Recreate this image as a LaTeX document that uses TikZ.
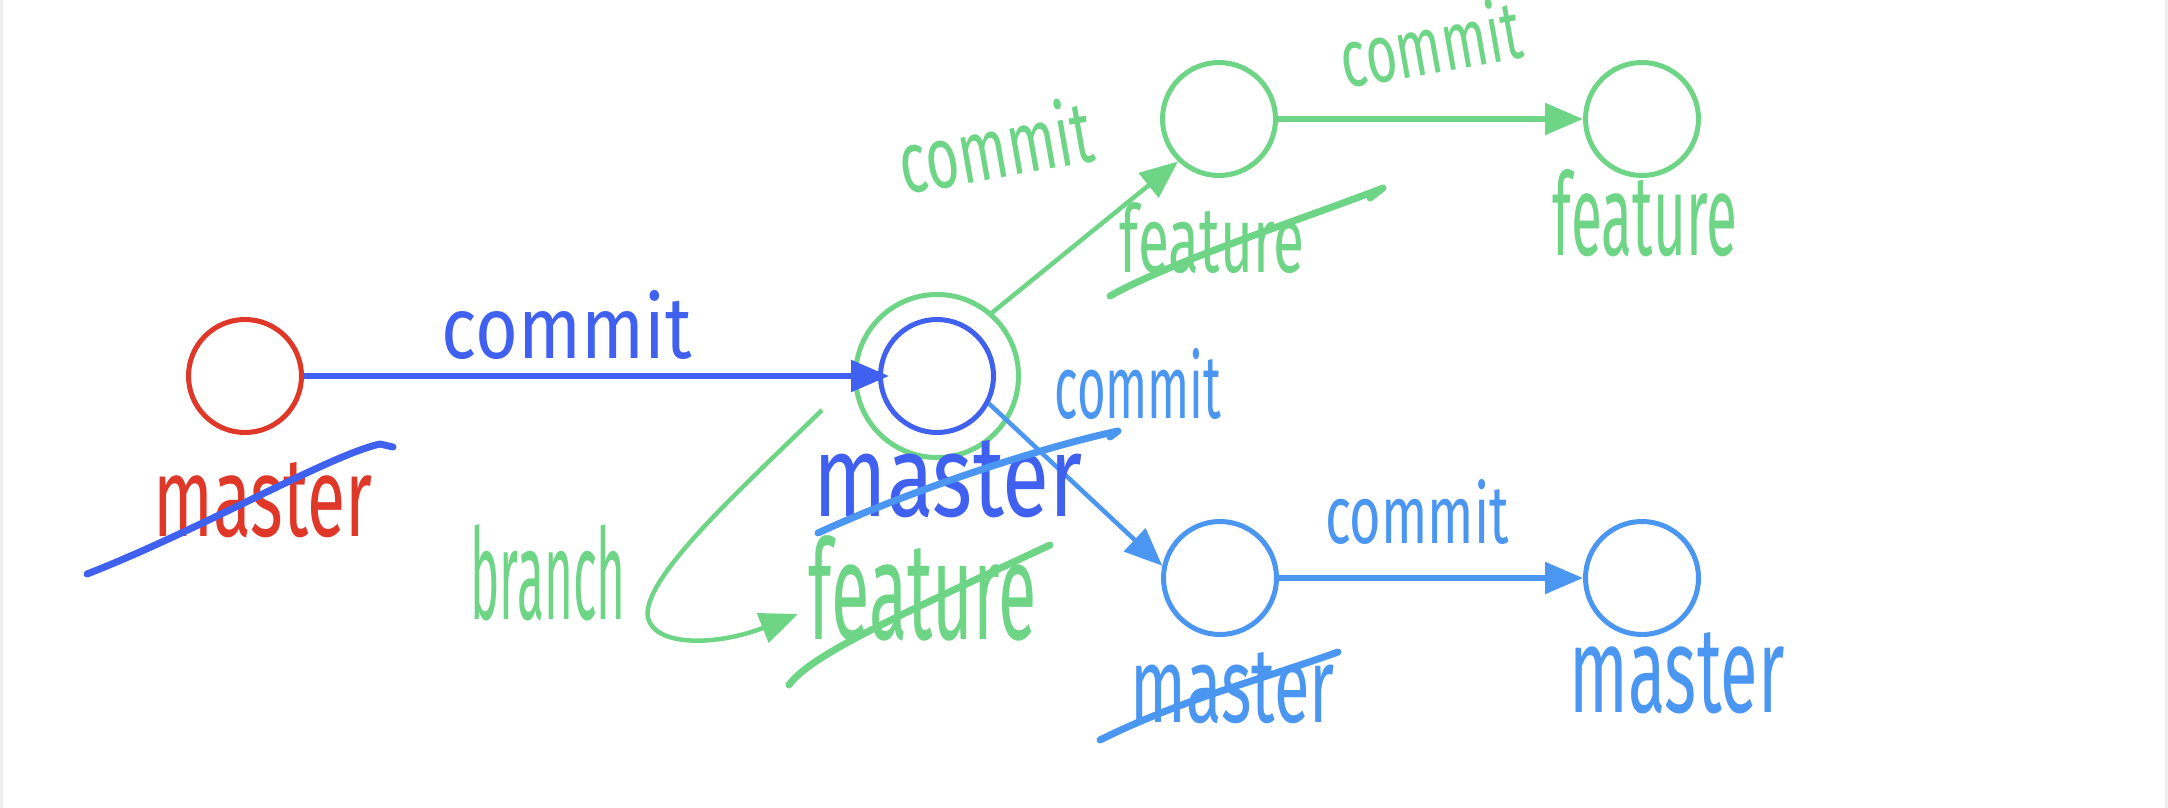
\documentclass[tikz,border=0pt]{standalone}
\usepackage{graphicx}
\usepackage{fontspec}
\setmainfont{Fira Sans}
\usetikzlibrary{arrows.meta}
\definecolor{cred}{RGB}{224,56,40}
\definecolor{cblue}{RGB}{64,96,240}
\definecolor{clblue}{RGB}{74,150,240}
\definecolor{cgreen}{RGB}{109,213,133}
\definecolor{cedge}{RGB}{239,239,239}
\newcommand\hw[3]{\resizebox{#1}{#2}{#3}}
\tikzset{
  commitnode/.style={circle, draw, line width=5pt, minimum size=113pt, inner sep=0pt},
  outerring/.style={circle, draw=cgreen, line width=5pt, minimum size=163pt, inner sep=0pt},
  link/.style={line width=5.5pt, -{Triangle[length=38pt, width=31pt]}},
  strike/.style={line width=7pt, line cap=round, line join=round},
  lbl/.style={inner sep=0pt, outer sep=0pt}
}
\begin{document}
\begin{tikzpicture}[x=1pt, y=-1pt]
\useasboundingbox (0,0) rectangle (2168,808);
\fill[white] (0,0) rectangle (2168,808);
\fill[cedge] (0,0) rectangle (3,808);
\fill[cedge] (2165,0) rectangle (2168,808);

% commit nodes
\node[commitnode, draw=cred] (r0) at (245,376) {};
\node[outerring] (m1out) at (937,376) {};
\node[commitnode, draw=cblue] (m1in) at (937,376) {};
\node[commitnode, draw=cgreen] (f1) at (1219,119) {};
\node[commitnode, draw=cgreen] (f2) at (1642,119) {};
\node[commitnode, draw=clblue] (b1) at (1220,578) {};
\node[commitnode, draw=clblue] (b2) at (1642,578) {};

% connectors
\draw[link, cblue, shorten >=-11pt] (r0.east) -- (m1in.west);
\draw[link, cgreen, line width=4.5pt] (m1out.49) -- (f1.226);
\draw[link, clblue, line width=4.5pt] (m1in.-28) -- (b1.168);
\draw[link, cgreen] (f1.east) -- (f2.west);
\draw[link, clblue] (b1.east) -- (b2.west);

% branch arrow
\coordinate (brs) at (822,410);
\coordinate (bre) at (798,614);
\draw[cgreen, line width=4.5pt, -{Triangle[length=38pt, width=31pt]}]
  (brs) .. controls (740,490) and (640,580) .. (648,618)
        .. controls (656,648) and (720,645) .. (bre);

% labels
\node[lbl, text=cblue] (t1) at (567,325) {\hw{250pt}{68pt}{commit}};
\node[lbl, text=cred] (t2) at (263,500) {\hw{219pt}{74pt}{master}};
\node[lbl, text=cblue] (t3) at (948,479) {\hw{269pt}{76pt}{master}};
\node[lbl, text=clblue] (t4) at (1138,384) {\hw{167pt}{70pt}{commit}};
\node[lbl, text=cgreen, rotate=10] (t5) at (995,145) {\hw{195pt}{68pt}{commit}};
\node[lbl, text=cgreen, rotate=10] (t6) at (1430,42) {\hw{182pt}{64pt}{commit}};
\node[lbl, text=cgreen] (t7) at (1212,238) {\hw{184pt}{70pt}{feature}};
\node[lbl, text=cgreen] (t8) at (1645,213) {\hw{184pt}{86pt}{feature}};
\node[lbl, text=cgreen] (t9) at (548,573) {\hw{155pt}{95pt}{branch}};
\node[lbl, text=cgreen] (t10) at (923,588) {\hw{228pt}{104pt}{feature}};
\node[lbl, text=clblue] (t11) at (1417,512) {\hw{184pt}{64pt}{commit}};
\node[lbl, text=clblue] (t12) at (1233,688) {\hw{204pt}{70pt}{master}};
\node[lbl, text=clblue] (t13) at (1677,673) {\hw{215pt}{80pt}{master}};

% strike-throughs
\draw[strike, cblue] (87,574) .. controls (200,530) and (330,455) .. (380,444) -- (393,447);
\draw[strike, clblue] (818,533) .. controls (900,495) and (1030,450) .. (1118,431) -- (1110,437);
\draw[strike, cgreen] (789,685) .. controls (810,655) and (900,615) .. (1050,545);
\draw[strike, cgreen] (1110,296) .. controls (1170,262) and (1300,220) .. (1383,188) -- (1370,198);
\draw[strike, clblue] (1100,740) .. controls (1180,700) and (1260,680) .. (1338,652);
\end{tikzpicture}
\end{document}
